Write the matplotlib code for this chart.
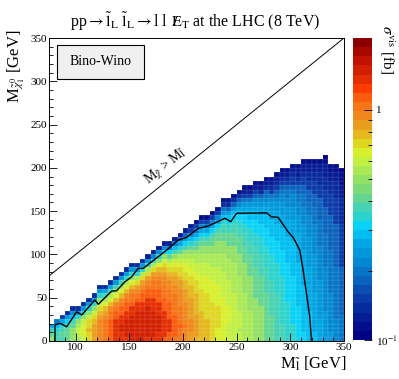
import numpy as np
import matplotlib
matplotlib.use('Agg')
import matplotlib.pyplot as plt
from matplotlib.colors import LinearSegmentedColormap, LogNorm
from matplotlib.patches import Rectangle
from matplotlib.ticker import MultipleLocator, FixedLocator, NullFormatter

plt.rcParams['font.family'] = ['Liberation Serif', 'DejaVu Serif']
plt.rcParams['mathtext.fontset'] = 'stix'

# sigma_vis map, 5 GeV bins. one string per slepton-mass column (x = 75..345),
# cells listed from M_chi = 0 upwards; character = colour level
LEVELS = '0123456789abcdefghijklmnopqrst'
x_start = 75
bin_w = 5
columns = [
    "fec9",
    "ddca6",
    "dedc94",
    "eeedb83",
    "fffeda73",
    "ghhgfc83",
    "hiiihfc83",
    "jjkjjhfc83",
    "llllkjhfc83",
    "mmmmmlkjhfc83",
    "nnnnnmlkigd93",
    "ooooonnmkigd93",
    "pppppoonmkigd83",
    "ppqqppoonmkigd83",
    "pqqqqppoonmkigc83",
    "qqqqqqpponnmkifc83",
    "qqqqqqqpponmljgc83",
    "qqqqqqqppoonmljgc83",
    "pqqqqqqqppoonmljgc72",
    "pqqqqqqpppoonnmljgc72",
    "ppqqqqpppooonnmlkifc72",
    "oppppppooonnnmmlkjhfb72",
    "oopppoooonnnmmlkjigeb62",
    "nooooonnnnnmmllkjihfda62",
    "nnnonnnnmmmmllkjjihgec952",
    "mmmnmmmmmlllkkjjiihgfdb852",
    "llmmmlllllkkkjjiihhgfeca742",
    "klllllkkkkkjjjiihhggfedb9641",
    "kkkkkkkjjjjjiiihhhggffedb9741",
    "kkkkkjjjjjjiiiihhhggffedb9641",
    "jjjjjjjjjiiiiihhhgggffeedb9741",
    "iiijjjjjiiiiihhhhgggfffeedb9741",
    "iiiiiiiiiihhhhhhggggfffeeddca8631",
    "hhhhiiiihhhhhhgggggfffeeedcba8531",
    "hhhhhhhhhhhgggggggffffeeeddcba8531",
    "hhghhhhggggggggfffffeeeeddccba97531",
    "gggggggggggfffffffeeeedddccbba986421",
    "gggggggffffffffeeeeedddcccbbaa986421",
    "ffffffffffeeeeeeedddddcccbbbaa9875421",
    "ffffffffeeeeeeedddddccccbbbaa99875321",
    "eeeeeeeeeeeddddddcccccbbbbaaa998765321",
    "eeeeeeddddddddccccccbbbbaaaa9988764321",
    "dddddddddddcccccccbbbbbaaaa999887654321",
    "ddddcccccccccccbbbbbbaaaaa99988877654321",
    "cccccccccbbbbbbbbbaaaaaa9999888776654321",
    "ccccbbbbbbbbbbbaaaaaaaa999998887776544321",
    "bbbbbbbbaaaaaaaaaa99999998888777665543221",
    "bbaaaaaaaaaaa99999999888888777766655443221",
    "aaaaaaa99999999998888888777776665554433221",
    "aa9999999998888888887777777666655544433221",
    "999998888888887777777766666655555444333221",
    "8888888777777777766666666555555444433322210",
    "88777777777666666666655555555444443332211",
    "77777666666666666555555555544444433332211",
    "6666665555555555544444444443333332221110",
]

z_min, z_max = 0.1, 2.05

# exclusion contour (black line)
contour_x = [80.7, 80.7, 85.3, 91.6, 100.9, 105.5, 117.9, 121.0, 133.5, 138.0,
             145.9, 152.0, 158.2, 163.0, 184.7, 195.5, 203.3, 214.0, 223.4,
             239.0, 244.5, 249.9, 277.8, 282.4, 288.6, 298.0, 302.6, 308.8,
             311.9, 315.0, 318.1, 319.7]
contour_y = [0, 18.5, 20.4, 16.5, 33.8, 30.0, 47.3, 42.4, 57.7, 58.0,
             68.5, 74.0, 84.0, 84.0, 105.0, 116.6, 119.7, 130.0, 132.8,
             141.7, 137.8, 147.5, 148.0, 143.5, 142.8, 126.0, 119.7, 105.0,
             82.0, 55.0, 28.0, 0]

# palette (position from bottom, colour)
palette = [
    (0.00, (0, 0, 130)), (0.068, (5, 30, 150)), (0.127, (10, 60, 170)),
    (0.191, (10, 100, 190)), (0.256, (0, 140, 210)), (0.32, (0, 170, 230)),
    (0.369, (0, 210, 255)), (0.401, (40, 210, 210)), (0.439, (70, 210, 180)),
    (0.482, (110, 215, 130)), (0.535, (150, 225, 100)), (0.589, (190, 240, 70)),
    (0.632, (220, 240, 40)), (0.67, (225, 200, 30)), (0.702, (230, 170, 30)),
    (0.74, (240, 140, 30)), (0.796, (245, 110, 20)), (0.842, (255, 60, 0)),
    (0.885, (220, 40, 0)), (0.944, (190, 15, 0)), (1.00, (140, 0, 0)),
]
cmap = LinearSegmentedColormap.from_list(
    'root', [(p, tuple(v / 255 for v in c)) for p, c in palette], N=33)

n_rows = max(len(s) for s in columns)
Z = np.full((n_rows, len(columns)), np.nan)
for i, s in enumerate(columns):
    for j, ch in enumerate(s):
        k = LEVELS.index(ch)
        Z[j, i] = z_min * (z_max / z_min) ** ((k + 0.5) / len(LEVELS))

x_edges = x_start + bin_w * np.arange(len(columns) + 1)
y_edges = bin_w * np.arange(n_rows + 1)

W, H = 399, 379
fig = plt.figure(figsize=(W / 100, H / 100), dpi=100)
ax = fig.add_axes([48.9 / W, (H - 341) / H, 295.1 / W, 303 / H])

mesh = ax.pcolormesh(x_edges, y_edges, np.ma.masked_invalid(Z), cmap=cmap,
                     norm=LogNorm(z_min, z_max),
                     edgecolors=(1, 1, 1, 0.05), linewidth=0.3)
ax.plot(contour_x, contour_y, color='k', lw=1.0)
ax.plot([75, 350], [75, 350], color='k', lw=0.7)
ax.text(184, 202, r'M$_{\tilde{\chi}}$ > M$_{\tilde{\mathrm{l}}}$', fontsize=10,
        rotation=38.9, ha='center', va='center', rotation_mode='anchor')

ax.set_xlim(75, 350)
ax.set_ylim(0, 350)
ax.set_xticks([100, 150, 200, 250, 300, 350])
ax.set_yticks([0, 50, 100, 150, 200, 250, 300, 350])
ax.xaxis.set_minor_locator(MultipleLocator(10))
ax.yaxis.set_minor_locator(MultipleLocator(10))
ax.tick_params(which='both', direction='in', top=False, right=False,
               labelsize=8, pad=1.5, width=0.6)
ax.tick_params(which='major', length=6)
ax.tick_params(which='minor', length=3)
for sp in ax.spines.values():
    sp.set_linewidth(0.7)

# legend box
ax.add_patch(Rectangle((0.0264, 0.865), 0.296, 0.112, transform=ax.transAxes,
                       facecolor='#f0f0f0', edgecolor='k', lw=0.8, zorder=5))
ax.text(0.174, 0.921, 'Bino-Wino', transform=ax.transAxes, fontsize=10,
        ha='center', va='center', zorder=6)

fig.text(195.5 / W, 1 - 21.7 / H,
         r'pp$\rightarrow\tilde{\mathrm{l}}_{\mathrm{L}}\ \tilde{\mathrm{l}}_{\mathrm{L}}\rightarrow$l l'
         r'$\;\;/\!\!\!\mathrm{E}_{\mathrm{T}}$ at the LHC (8 TeV)',
         fontsize=11.5, ha='center', va='center')
fig.text(346 / W, 1 - 369 / H, r'M$_{\tilde{\mathrm{l}}}$ [GeV]', fontsize=12,
         ha='right', va='baseline')
fig.text(16 / W, 1 - 30 / H, r'M$_{\tilde{\chi}^{0}_{1}}$ [GeV]', fontsize=12,
         rotation=90, ha='center', va='top')

# colour bar
cax = fig.add_axes([353 / W, (H - 340) / H, 19 / W, 302 / H])
cb = fig.colorbar(mesh, cax=cax)
cb.outline.set_visible(False)
cb.set_ticks([0.1, 1])
cb.set_ticklabels([r'10$^{-1}$', '1'])
cax.yaxis.set_minor_locator(FixedLocator([0.2, 0.3, 0.4, 0.5, 0.6, 0.7, 0.8, 0.9]))
cax.yaxis.set_minor_formatter(NullFormatter())
cax.tick_params(which='both', direction='in', labelsize=8, pad=3, width=0.6)
cax.tick_params(which='major', length=6)
cax.tick_params(which='minor', length=3)
fig.text(387 / W, 1 - 25 / H, r'$\sigma^{\mathrm{vis}}$ [fb]', fontsize=11,
         rotation=-90, ha='center', va='top')

fig.savefig('out.png', dpi=100)
